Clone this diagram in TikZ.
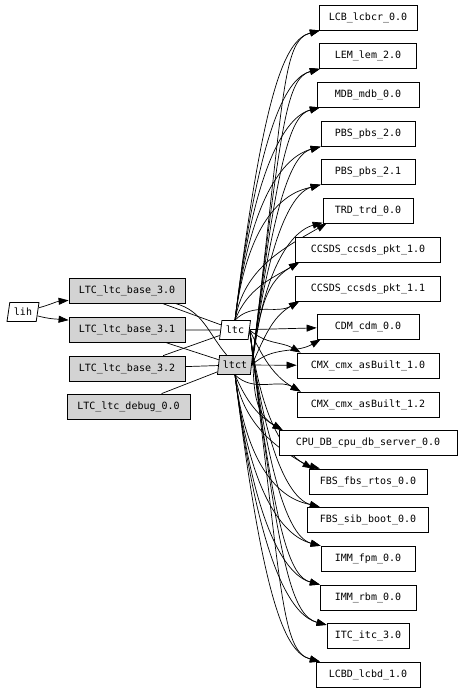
\documentclass[tikz,border=0pt]{standalone}
\usepackage{fontspec}
\setmonofont{DejaVu Sans Mono}
\usepackage{tikz}
\usetikzlibrary{arrows.meta,shapes.geometric,backgrounds}
\usepackage{xcolor}
\definecolor{pkggray}{RGB}{211,211,211}

% right column: name/label/y/width (y in pixels from the top)
\newcommand{\pkglist}{lcb/LCB\_lcbcr\_0.0/17.5/98,lem/LEM\_lem\_2.0/56/97,
  mdb/MDB\_mdb\_0.0/94.5/102,pbsa/PBS\_pbs\_2.0/134/94,pbsb/PBS\_pbs\_2.1/172/94,
  trd/TRD\_trd\_0.0/210.5/90,ccsa/CCSDS\_ccsds\_pkt\_1.0/249.5/145,
  ccsb/CCSDS\_ccsds\_pkt\_1.1/288.5/145,cdm/CDM\_cdm\_0.0/326.5/102,
  cmxa/CMX\_cmx\_asBuilt\_1.0/365.5/142,cmxb/CMX\_cmx\_asBuilt\_1.2/404.5/142,
  cpu/CPU\_DB\_cpu\_db\_server\_0.0/443/178,fbsa/FBS\_fbs\_rtos\_0.0/481.5/118,
  fbsb/FBS\_sib\_boot\_0.0/520/121,fpm/IMM\_fpm\_0.0/558.5/94,
  rbm/IMM\_rbm\_0.0/597.5/96,itc/ITC\_itc\_3.0/636/82,lcbd/LCBD\_lcbd\_1.0/674.5/104}

% #1 source, #2 its y, #3/#4 anchors for up/down, #5 target, #6 its y
\newcommand{\deplink}[6]{%
  \pgfmathsetmacro{\dy}{#2-#6}%
  \pgfmathsetmacro{\ady}{abs(\dy)}%
  \pgfmathsetmacro{\oang}{min(80,20+0.6*\ady)}%
  \ifdim\ady pt<10pt
    \draw[dep] (#1) -- (#5);
  \else\ifdim\ady pt<130pt
    \ifdim\dy pt>0pt
      \draw[dep] (#1.#3) to[out=\oang,in=210] ([xshift=4pt]#5.south west);
    \else
      \draw[dep] (#1.#4) to[out=-\oang,in=150] ([xshift=4pt]#5.north west);
    \fi
  \else
    \ifdim\dy pt>0pt
      \draw[dep] (#1.#3) to[out=83,in=195,out looseness=2,in looseness=.3] (#5);
    \else
      \draw[dep] (#1.#4) to[out=-83,in=165,out looseness=2,in looseness=.3] (#5);
    \fi
  \fi\fi}

\begin{document}
\begin{tikzpicture}[x=1pt,y=1pt,
  font=\ttfamily\fontsize{10}{12}\selectfont,
  pkg/.style={draw,fill=white,line width=.8pt,minimum height=25pt,inner sep=0pt},
  base/.style={pkg,fill=pkggray},
  lib/.style={trapezium,trapezium left angle=78,trapezium right angle=102,
    trapezium stretches=true,draw,fill=white,line width=.8pt,
    minimum height=19pt,minimum width=31pt,inner sep=0pt},
  dep/.style={line width=.7pt,-{Triangle[length=10pt,width=7pt]}},
  use/.style={line width=.7pt}
]
\useasboundingbox (0,0) rectangle (464,-692);

\node[lib,trapezium left angle=76,trapezium right angle=104,minimum width=32pt] (lih) at (23,-312) {lih};
\node[base,minimum width=116pt] (b30) at (127,-290.5) {LTC\_ltc\_base\_3.0};
\node[base,minimum width=116pt] (b31) at (127,-330) {LTC\_ltc\_base\_3.1};
\node[base,minimum width=116pt] (b32) at (127,-368.5) {LTC\_ltc\_base\_3.2};
\node[base,minimum width=123pt] (dbg) at (128.5,-406.5) {LTC\_ltc\_debug\_0.0};
\node[lib] (ltc) at (235,-330) {ltc};
\node[lib,fill=pkggray,minimum width=35pt] (ltct) at (235,-365) {ltct};

\foreach \nm/\txt/\yy/\ww in \pkglist
  \node[pkg,minimum width=\ww pt] (\nm) at (368,-\yy) {\txt};

\begin{scope}[on background layer]
  \draw[dep] (lih) to[out=15,in=185] ([yshift=3pt]b30.south west);
  \draw[dep] (lih) to[out=-15,in=175] ([yshift=-3pt]b31.north west);
  \draw[use] (b30) -- (ltc);
  \draw[use] (b30) to[out=-15,in=130] (ltct);
  \draw[use] (b31) -- (ltc);
  \draw[use] (b31) -- (ltct);
  \draw[use] (b32) -- (ltc);
  \draw[use] (b32) -- (ltct);
  \draw[use] (dbg) -- (ltct);
  \foreach \src/\sy/\up/\dn in {ltc/330/north/east,ltct/365/east/south}
    \foreach \nm/\txt/\yy/\ww in \pkglist
      \deplink{\src}{\sy}{\up}{\dn}{\nm}{\yy};
\end{scope}
\end{tikzpicture}
\end{document}
